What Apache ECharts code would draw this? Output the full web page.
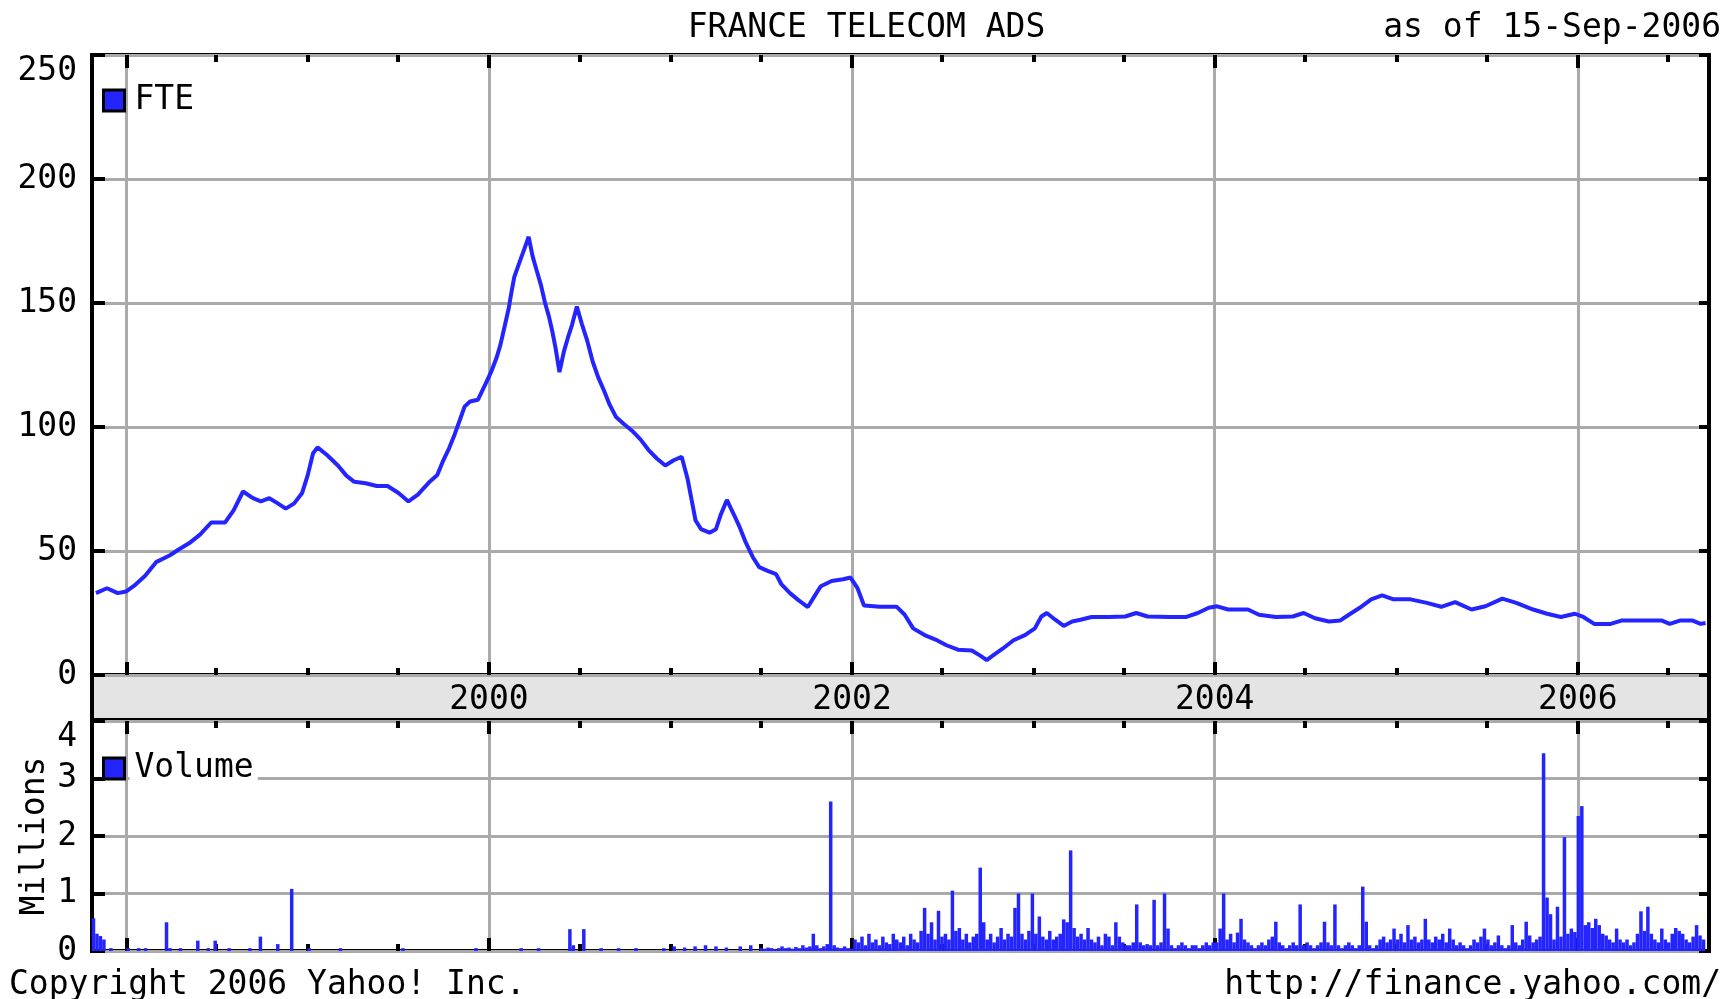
<!DOCTYPE html>
<html>
<head>
<meta charset="utf-8">
<title>FRANCE TELECOM ADS</title>
<script src="https://cdn.jsdelivr.net/npm/echarts@6/dist/echarts.min.js"></script>
<style>
  html, body { margin: 0; padding: 0; background: #fff; }
  #chart { width: 1733px; height: 999px; }
</style>
</head>
<body>
<div id="chart"></div>
<script>
// FTE weekly close
const priceDates = [
  '1997-11-01','1997-11-23','1997-12-15','1998-01-01','1998-01-17','1998-02-08','1998-03-02','1998-03-30',
  '1998-04-15','1998-05-08','1998-05-30','1998-06-21','1998-07-19','1998-08-05','1998-08-24','1998-09-13',
  '1998-09-29','1998-10-16','1998-11-02','1998-11-18','1998-12-05','1998-12-21','1999-01-01','1999-01-12',
  '1999-01-21','1999-02-09','1999-03-03','1999-03-20','1999-04-05','1999-04-28','1999-05-20','1999-06-11',
  '1999-07-03','1999-07-23','1999-08-11','1999-09-02','1999-09-19','1999-09-30','1999-10-13','1999-10-24',
  '1999-11-02','1999-11-13','1999-11-24','1999-12-10','1999-12-25','2000-01-05','2000-01-16','2000-01-24',
  '2000-02-01','2000-02-10','2000-02-15','2000-02-21','2000-03-03','2000-03-12','2000-03-21','2000-03-29',
  '2000-04-06','2000-04-15','2000-04-23','2000-05-01','2000-05-08','2000-05-14','2000-05-22','2000-05-31',
  '2000-06-08','2000-06-16','2000-06-26','2000-07-06','2000-07-17','2000-07-28','2000-08-08','2000-08-20',
  '2000-08-31','2000-09-13','2000-09-28','2000-10-15','2000-11-01','2000-11-17','2000-12-04','2000-12-21',
  '2001-01-07','2001-01-23','2001-02-04','2001-02-12','2001-02-20','2001-03-03','2001-03-20','2001-04-02',
  '2001-04-11','2001-04-24','2001-05-09','2001-05-20','2001-05-31','2001-06-15','2001-06-28','2001-07-15',
  '2001-08-01','2001-08-12','2001-08-29','2001-09-15','2001-10-04','2001-10-19','2001-10-30','2001-11-21',
  '2001-12-14','2001-12-29','2002-01-12','2002-01-25','2002-02-26','2002-04-01','2002-04-17','2002-05-04',
  '2002-05-27','2002-06-18','2002-07-10','2002-08-02','2002-08-30','2002-09-16','2002-09-29','2002-10-14',
  '2002-10-31','2002-11-22','2002-12-15','2003-01-04','2003-01-17','2003-01-28','2003-02-14','2003-03-03',
  '2003-03-20','2003-04-06','2003-04-28','2003-06-01','2003-07-05','2003-07-27','2003-08-19','2003-10-03',
  '2003-11-05','2003-11-28','2003-12-20','2004-01-06','2004-01-28','2004-03-08','2004-03-30','2004-05-03',
  '2004-06-06','2004-06-28','2004-07-21','2004-08-18','2004-09-10','2004-09-27','2004-10-19','2004-11-11',
  '2004-12-03','2004-12-26','2005-01-29','2005-03-03','2005-04-01','2005-04-29','2005-06-01','2005-06-29',
  '2005-08-02','2005-08-30','2005-10-03','2005-10-31','2005-11-28','2005-12-26','2006-01-12','2006-02-03',
  '2006-03-08','2006-03-31','2006-05-04','2006-06-18','2006-07-05','2006-07-27','2006-08-19','2006-09-05',
  '2006-09-15'
];
const priceValues = [
  33, 35, 33, 33.7, 36, 40, 45.5, 48.3,
  50.4, 53.2, 56.7, 61.5, 61.5, 66.4, 74, 71.3,
  70, 71.3, 69.2, 67.1, 69.2, 73.4, 80.4, 89.4,
  91.8, 88.7, 84.5, 80.4, 77.9, 77.3, 76.2, 76.2,
  73.4, 70, 72.7, 77.6, 80.6, 86, 91.5, 97,
  102, 108.2, 110.3, 111, 117.3, 122, 127.7, 133,
  140, 148, 154, 160.4, 166.7, 171.6, 176.7, 168.8,
  163.2, 157, 150, 144.4, 138.2, 132, 122.1, 130.5,
  136, 141, 148.6, 141.6, 134.7, 126.3, 120, 114.5,
  109, 104, 101.3, 98.5, 95, 90.8, 87.3, 84.5,
  86.6, 88, 79, 70.6, 62.3, 58.8, 57.4, 58.8,
  64.3, 70.6, 64.3, 59.5, 53.9, 47.6, 43.5, 42,
  40.7, 36.5, 33, 30.2, 27.4, 32.3, 35.8, 37.9,
  38.6, 39.3, 35, 28, 27.5, 27.5, 24.3, 18.8,
  16.1, 14.3, 12, 10.2, 9.9, 7.8, 6, 8.2,
  10.6, 14, 16.1, 18.8, 23.6, 25, 22.3, 19.8,
  21.6, 22.3, 23.4, 23.4, 23.6, 25, 23.6, 23.4,
  23.4, 25, 27.1, 27.7, 26.4, 26.4, 24.3, 23.4,
  23.6, 25, 22.9, 21.6, 22, 24.3, 27.1, 30.5,
  32.1, 30.5, 30.5, 29.1, 27.5, 29.4, 26.4, 27.7,
  30.8, 29.1, 26.4, 24.7, 23.4, 24.7, 23.4, 20.6,
  20.6, 22, 22, 22, 20.6, 22, 22, 20.6,
  21
];

// volume (millions): scattered early bars
const volDates = [
  '1997-10-27','1997-11-03','1997-11-10','1997-11-17','1997-12-01','1998-01-05','1998-01-26','1998-02-09',
  '1998-03-23','1998-03-30','1998-04-20','1998-05-25','1998-06-15','1998-06-29','1998-07-27','1998-09-07',
  '1998-09-28','1998-11-02','1998-11-30','1999-01-04','1999-03-08','1999-07-12','1999-12-06','2000-03-06',
  '2000-04-10','2000-06-12','2000-06-19','2000-07-10','2000-08-14','2000-09-18','2000-10-23','2000-12-18',
  '2001-01-08','2001-01-29','2001-02-19','2001-03-12','2001-04-02','2001-04-23','2001-05-21','2001-06-11'
];
const volValues = [
  0.57, 0.3, 0.26, 0.2, 0.05, 0.05, 0.05, 0.05,
  0.5, 0.05, 0.05, 0.18, 0.05, 0.18, 0.05, 0.05,
  0.25, 0.12, 1.08, 0.05, 0.05, 0.05, 0.05, 0.05,
  0.05, 0.38, 0.1, 0.38, 0.05, 0.05, 0.05, 0.05,
  0.08, 0.06, 0.08, 0.1, 0.08, 0.06, 0.08, 0.1
];

// volume (millions): one bar per week from volWeekStart
const volWeekStart = '2001-07-02';
const volWeekly = [
  // 2001 H2
  0.05,0.04,0.06,0.05,0.03,0.05,0.08,0.05,0.06,0.04,0.07,0.05,0.1,0.06,0.08,0.3,0.1,0.05,0.08,0.12,
  2.6,0.1,0.06,0.05,0.08,0.05,0.04,
  // 2002
  0.2,0.15,0.25,0.1,0.3,0.15,0.2,0.1,0.25,0.15,0.12,0.3,0.2,0.15,0.25,0.1,0.3,0.2,0.15,0.35,
  0.75,0.3,0.5,0.2,0.7,0.25,0.3,0.2,1.05,0.35,0.4,0.2,0.3,0.15,0.25,0.3,1.45,0.5,0.2,0.3,
  0.15,0.25,0.4,0.2,0.3,0.25,0.75,1.0,0.3,0.2,0.35,1.0,
  // 2003
  0.3,0.6,0.25,0.2,0.35,0.2,0.25,0.3,0.55,0.5,1.75,0.4,0.25,0.3,0.2,0.4,0.2,0.15,0.25,0.1,
  0.3,0.25,0.1,0.5,0.25,0.15,0.1,0.1,0.15,0.81,0.15,0.1,0.12,0.1,0.89,0.1,0.15,1.0,0.39,0.1,
  0.05,0.1,0.15,0.1,0.05,0.1,0.1,0.05,0.1,0.15,0.1,0.15,
  // 2004
  0.15,0.39,1.0,0.2,0.3,0.15,0.32,0.56,0.2,0.15,0.1,0.05,0.1,0.15,0.1,0.2,0.25,0.51,0.15,0.1,
  0.05,0.1,0.15,0.1,0.81,0.1,0.15,0.1,0.05,0.1,0.15,0.51,0.15,0.1,0.81,0.1,0.05,0.1,0.15,0.1,
  0.05,0.1,1.12,0.51,0.1,0.05,0.1,0.2,0.25,0.15,0.2,0.39,
  // 2005
  0.2,0.3,0.15,0.45,0.2,0.25,0.15,0.2,0.56,0.2,0.15,0.25,0.2,0.3,0.15,0.39,0.2,0.1,0.15,0.1,
  0.05,0.1,0.2,0.15,0.25,0.39,0.2,0.1,0.15,0.27,0.1,0.05,0.1,0.45,0.15,0.1,0.2,0.51,0.27,0.15,
  0.2,0.25,3.44,0.93,0.64,0.2,0.77,0.25,1.98,0.3,0.39,0.33,
  // 2006
  2.35,2.52,0.45,0.5,0.4,0.56,0.45,0.3,0.27,0.2,0.15,0.39,0.2,0.15,0.2,0.1,0.15,0.3,0.69,0.35,
  0.77,0.3,0.2,0.15,0.39,0.2,0.15,0.3,0.4,0.35,0.3,0.2,0.15,0.25,0.45,0.27,0.2
];

const yearGridTicks = ['1998-01-01','2000-01-01','2002-01-01','2004-01-01','2006-01-01'];
const halfYearTicks = [
  '1998-01-01','1998-07-01','1999-01-01','1999-07-01','2000-01-01','2000-07-01','2001-01-01','2001-07-01',
  '2002-01-01','2002-07-01','2003-01-01','2003-07-01','2004-01-01','2004-07-01','2005-01-01','2005-07-01',
  '2006-01-01','2006-07-01'
];
const yearLabels = ['2000-01-01','2002-01-01','2004-01-01','2006-01-01'];
const xStart = '1997-10-24';
const xEnd = '2006-09-22';

const FONT = 'DejaVu Sans Mono';
const BLUE = '#2424ff';
const GRID_GRAY = '#aaaaaa';

// dates -> timestamps, the x axes are plain value axes in ms
function day(s) {
  const p = s.split('-').map(Number);
  return new Date(p[0], p[1] - 1, p[2]).getTime();
}

const priceData = priceDates.map((t, i) => [day(t), priceValues[i]]);
const volData = volDates.map((t, i) => [day(t), volValues[i]]);
const w0 = day(volWeekStart);
volWeekly.forEach((v, i) => {
  const dt = new Date(w0);
  dt.setDate(dt.getDate() + 7 * i);
  volData.push([dt.getTime(), v]);
});

function dateAxis(grid, position, ticks, len, showGrid) {
  return {
    type: 'value', gridIndex: grid, position: position,
    min: day(xStart), max: day(xEnd),
    axisLine: {show: false},
    axisTick: {show: true, inside: true, length: len, customValues: ticks.map(day),
      lineStyle: {color: '#000', width: 4}},
    axisLabel: {show: false},
    splitLine: {show: !!showGrid, lineStyle: {color: GRID_GRAY, width: 3}}
  };
}

const labelStyle = {color: '#000', fontFamily: FONT, fontSize: 33};
const tickStyle = {color: '#000', width: 4};
const titleStyle = Object.assign({fontWeight: 'normal'}, labelStyle);

const chart = echarts.init(document.getElementById('chart'), null, {renderer: 'canvas'});

chart.setOption({
  animation: false,
  backgroundColor: '#fff',
  title: [
    {text: 'FRANCE TELECOM ADS', left: 'center', top: 12, padding: 0, textStyle: titleStyle},
    {text: 'as of 15-Sep-2006', right: 12, top: 12, padding: 0, textStyle: titleStyle},
    {text: 'Copyright 2006 Yahoo! Inc.', left: 9, top: 969, padding: 0, textStyle: titleStyle},
    {text: 'http://finance.yahoo.com/', right: 12, top: 969, padding: 0, textStyle: titleStyle}
  ],
  legend: [
    {data: ['FTE'], left: 102, top: 84, padding: 0, icon: 'rect', itemWidth: 21, itemHeight: 21,
      selectedMode: false, itemStyle: {borderColor: '#000', borderWidth: 3},
      textStyle: Object.assign({backgroundColor: '#fff', padding: [0, 4, 0, 5]}, labelStyle)},
    {data: ['Volume'], left: 102, top: 752, padding: 0, icon: 'rect', itemWidth: 21, itemHeight: 21,
      selectedMode: false, itemStyle: {borderColor: '#000', borderWidth: 3},
      textStyle: Object.assign({backgroundColor: '#fff', padding: [0, 4, 0, 5]}, labelStyle)}
  ],
  grid: [
    {left: 92, right: 24, top: 55, height: 620, show: true, borderColor: '#000', borderWidth: 4},
    {left: 92, right: 24, top: 675, height: 45, show: true, backgroundColor: '#e4e4e4',
      borderColor: '#000', borderWidth: 4},
    {left: 92, right: 24, top: 721, height: 230, show: true, borderColor: '#000', borderWidth: 4}
  ],
  xAxis: [
    dateAxis(0, 'bottom', yearGridTicks, 13, true),
    dateAxis(0, 'bottom', halfYearTicks, 7),
    dateAxis(0, 'top', yearGridTicks, 13),
    dateAxis(0, 'top', halfYearTicks, 7),
    {
      type: 'value', gridIndex: 1, position: 'bottom', z: 5,
      min: day(xStart), max: day(xEnd),
      axisLine: {show: false}, axisTick: {show: false}, splitLine: {show: false},
      axisLabel: Object.assign({show: true, inside: true, margin: 3,
        customValues: yearLabels.map(day),
        formatter: v => String(new Date(v).getFullYear())}, labelStyle)
    },
    dateAxis(2, 'bottom', yearGridTicks, 13, true),
    dateAxis(2, 'bottom', halfYearTicks, 7),
    dateAxis(2, 'top', yearGridTicks, 13),
    dateAxis(2, 'top', halfYearTicks, 7)
  ],
  yAxis: [
    {type: 'value', gridIndex: 0, position: 'left', min: 0, max: 250, interval: 50,
      axisLine: {show: false},
      axisTick: {show: true, inside: true, length: 13, lineStyle: tickStyle},
      axisLabel: Object.assign({margin: 15, verticalAlignMaxLabel: 'top'}, labelStyle),
      splitLine: {show: true, lineStyle: {color: GRID_GRAY, width: 3}}},
    {type: 'value', gridIndex: 0, position: 'right', min: 0, max: 250, interval: 50,
      axisLine: {show: false},
      axisTick: {show: true, inside: true, length: 10, lineStyle: tickStyle},
      axisLabel: {show: false}, splitLine: {show: false}},
    {type: 'value', gridIndex: 1, show: false, min: 0, max: 1},
    {type: 'value', gridIndex: 2, position: 'left', min: 0, max: 4, interval: 1,
      name: 'Millions', nameLocation: 'middle', nameRotate: 90, nameGap: 40,
      nameMoveOverlap: false,
      nameTextStyle: labelStyle,
      axisLine: {show: false},
      axisTick: {show: true, inside: true, length: 13, lineStyle: tickStyle},
      axisLabel: Object.assign({margin: 15, verticalAlignMaxLabel: 'top'}, labelStyle),
      splitLine: {show: true, lineStyle: {color: GRID_GRAY, width: 3}}},
    {type: 'value', gridIndex: 2, position: 'right', min: 0, max: 4, interval: 1,
      axisLine: {show: false},
      axisTick: {show: true, inside: true, length: 10, lineStyle: tickStyle},
      axisLabel: {show: false}, splitLine: {show: false}}
  ],
  series: [
    {
      name: 'FTE', type: 'line', xAxisIndex: 0, yAxisIndex: 0,
      data: priceData, showSymbol: false, color: BLUE,
      lineStyle: {width: 4, color: BLUE}, z: 3
    },
    {
      name: 'Volume', type: 'bar', xAxisIndex: 5, yAxisIndex: 3,
      data: volData, barWidth: 3.5, color: BLUE,
      itemStyle: {color: BLUE}
    }
  ]
});

window.addEventListener('resize', () => chart.resize());
</script>
</body>
</html>
